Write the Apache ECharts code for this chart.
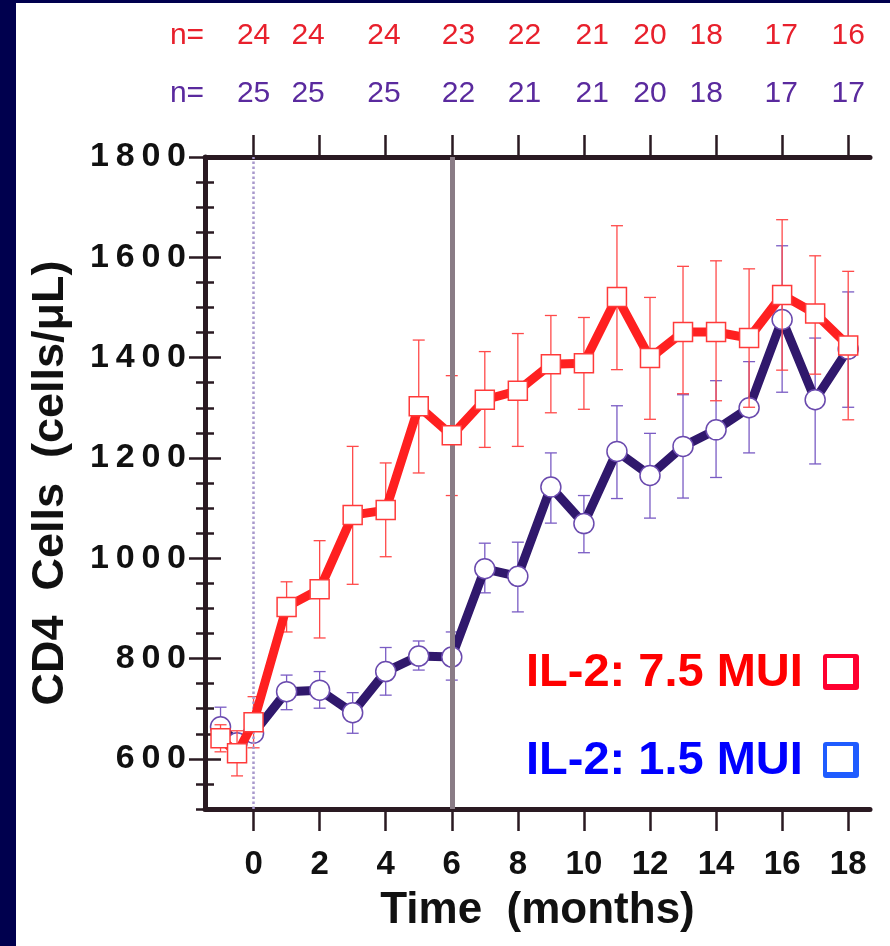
<!DOCTYPE html>
<html>
<head>
<meta charset="utf-8">
<script src="https://cdn.jsdelivr.net/npm/echarts@6/dist/echarts.min.js"></script>
<style>
  html, body { margin: 0; padding: 0; background: #00004e; }
  #chart { width: 890px; height: 946px; }
</style>
</head>
<body>
<div id="chart"></div>
<script>
// Visit times (months from start of IL-2 therapy)
const months = [-1, -0.5, 0, 1, 2, 3, 4, 5, 6, 7, 8, 9, 10, 11, 12, 13, 14, 15, 16, 17, 18];

// IL-2 7.5 MUI arm: mean CD4 count and error-bar limits (cells/µL)
const highDoseMean = [641, 611, 673, 903, 938, 1086, 1096, 1303, 1245, 1316, 1334, 1387, 1389, 1521, 1399, 1451, 1451, 1439, 1525, 1488, 1424];
const highDoseLow  = [614, 566, 622, 853, 841, 948, 1003, 1170, 1125, 1221, 1223, 1290, 1297, 1376, 1277, 1328, 1314, 1301, 1375, 1367, 1276];
const highDoseHigh = [668, 656, 724, 953, 1035, 1223, 1190, 1435, 1364, 1412, 1448, 1484, 1480, 1663, 1520, 1582, 1593, 1577, 1675, 1603, 1572];

// IL-2 1.5 MUI arm
const lowDoseMean = [664, 632, 651, 734, 737, 692, 774, 805, 803, 979, 964, 1142, 1069, 1213, 1165, 1223, 1256, 1300, 1476, 1316, 1417];
const lowDoseLow  = [625, 618, 635, 698, 701, 651, 727, 777, 757, 931, 893, 1070, 1011, 1119, 1080, 1120, 1161, 1210, 1331, 1188, 1301];
const lowDoseHigh = [703, 646, 667, 767, 774, 732, 822, 835, 853, 1030, 1032, 1210, 1125, 1304, 1249, 1326, 1354, 1392, 1623, 1439, 1531];

// Patients contributing at each header column
const nHighDose = [24, 24, 24, 23, 22, 21, 20, 18, 17, 16];
const nLowDose  = [25, 25, 25, 22, 21, 21, 20, 18, 17, 17];
const nColumnMonth = [0, 1.65, 3.95, 6.2, 8.2, 10.25, 12.0, 13.7, 15.97, 18.0];

// Axis tick values
const xTicks = [0, 2, 4, 6, 8, 10, 12, 14, 16, 18];
const yTicks = [600, 800, 1000, 1200, 1400, 1600, 1800];

const FONT = "'Liberation Sans', Arial, Helvetica, sans-serif";
const AXIS_DARK = '#2a1a22';
const RED = '#ff2020';
const PURPLE = '#30186c';

const zip = (m, a) => m.map((x, i) => [x, a[i]]);
const zip3 = (m, a, b) => m.map((x, i) => [x, a[i], b[i]]);

function errorBars(color) {
  return function (params, api) {
    const x = api.value(0);
    const lo = api.coord([x, api.value(1)]);
    const hi = api.coord([x, api.value(2)]);
    const h = 6;
    const st = { stroke: color, lineWidth: 1.3 };
    return {
      type: 'group',
      children: [
        { type: 'line', shape: { x1: lo[0], y1: lo[1], x2: hi[0], y2: hi[1] }, style: st },
        { type: 'line', shape: { x1: lo[0] - h, y1: lo[1], x2: lo[0] + h, y2: lo[1] }, style: st },
        { type: 'line', shape: { x1: hi[0] - h, y1: hi[1], x2: hi[0] + h, y2: hi[1] }, style: st }
      ]
    };
  };
}

const spaced = v => String(v).split('').join('\u2009');

const xRange = { min: -1.47, max: 18.66 };
const yRange = { min: 500, max: 1800 };

const chart = echarts.init(document.getElementById('chart'));

const yBase = {
  type: 'value', position: 'left', ...yRange,
  axisLine: { show: false, onZero: false },
  axisLabel: { show: false },
  splitLine: { show: false }
};

chart.setOption({
  animation: false,
  backgroundColor: '#00004e',
  grid: { left: 205, right: 20, top: 157, bottom: 137 },
  xAxis: [
    {
      type: 'value', position: 'bottom', ...xRange,
      axisLine: { show: true, onZero: false, lineStyle: { color: AXIS_DARK, width: 5 } },
      axisTick: { show: true, customValues: xTicks, length: 22, lineStyle: { color: AXIS_DARK, width: 2.5 } },
      axisLabel: { show: true, customValues: xTicks, margin: 39, color: '#111', fontFamily: FONT, fontWeight: 'bold', fontSize: 33 },
      splitLine: { show: false },
      name: 'Time  (months)', nameLocation: 'middle', nameGap: 80,
      nameTextStyle: { color: '#111', fontFamily: FONT, fontWeight: 'bold', fontSize: 44 }
    },
    {
      type: 'value', position: 'top', ...xRange,
      axisLine: { show: true, onZero: false, lineStyle: { color: AXIS_DARK, width: 5 } },
      axisTick: { show: true, customValues: xTicks, length: 22, lineStyle: { color: AXIS_DARK, width: 2.5 } },
      axisLabel: { show: false },
      splitLine: { show: false }
    }
  ],
  yAxis: [
    Object.assign({}, yBase, {
      // minor ticks every 50, outer half, plus the axis line and title
      interval: 50,
      axisLine: { show: true, onZero: false, lineStyle: { color: AXIS_DARK, width: 5 } },
      axisTick: { show: true, length: 9, lineStyle: { color: AXIS_DARK, width: 2.5 } },
      name: 'CD4  Cells  (cells/\u03bcL)', nameLocation: 'middle', nameGap: 132,
      nameTextStyle: { color: '#111', fontFamily: FONT, fontWeight: 'bold', fontSize: 45 }
    }),
    Object.assign({}, yBase, {
      // minor ticks, inner half
      interval: 50,
      axisTick: { show: true, inside: true, length: 9, lineStyle: { color: AXIS_DARK, width: 2.5 } }
    }),
    Object.assign({}, yBase, {
      // major ticks with labels, outer half
      axisTick: { show: true, customValues: yTicks, length: 16, lineStyle: { color: AXIS_DARK, width: 2.5 } },
      axisLabel: { show: true, customValues: yTicks, margin: 19, formatter: spaced, color: '#111', fontFamily: FONT, fontWeight: 'bold', fontSize: 34 }
    }),
    Object.assign({}, yBase, {
      // major ticks, inner half
      axisTick: { show: true, inside: true, customValues: yTicks, length: 16, lineStyle: { color: AXIS_DARK, width: 2.5 } }
    })
  ],
  series: [
    {
      // reference lines: start of therapy and 6-month mark
      type: 'line', data: [], z: 1, silent: true,
      markLine: {
        silent: true, symbol: 'none', label: { show: false },
        data: [
          { xAxis: 0, lineStyle: { color: '#a898cc', width: 2.5, type: 'dotted' } },
          { xAxis: 6, lineStyle: { color: '#8a7c86', width: 5, type: 'solid' } }
        ]
      }
    },
    {
      name: 'IL-2: 1.5 MUI errors', type: 'custom', z: 2,
      renderItem: errorBars('#7a5cc4'),
      encode: { x: 0, y: [1, 2] },
      data: zip3(months, lowDoseLow, lowDoseHigh)
    },
    {
      name: 'IL-2: 1.5 MUI', type: 'line', z: 3,
      data: zip(months, lowDoseMean),
      symbol: 'circle', symbolSize: 20,
      lineStyle: { color: PURPLE, width: 9 },
      itemStyle: { color: '#ffffff', borderColor: '#6a4aae', borderWidth: 1.5 }
    },
    {
      name: 'IL-2: 7.5 MUI errors', type: 'custom', z: 4,
      renderItem: errorBars('#ff4a4a'),
      encode: { x: 0, y: [1, 2] },
      data: zip3(months, highDoseLow, highDoseHigh)
    },
    {
      name: 'IL-2: 7.5 MUI', type: 'line', z: 5,
      data: zip(months, highDoseMean),
      symbol: 'rect', symbolSize: 19,
      lineStyle: { color: RED, width: 9 },
      itemStyle: { color: '#ffffff', borderColor: '#ff3a3a', borderWidth: 1.5 }
    }
  ]
});

// Header rows with patient counts, plus the dose key
function legendBox(x, y, color) {
  return {
    type: 'group', z: 20,
    children: [
      { type: 'rect', shape: { x: x, y: y, width: 36, height: 36, r: 3 }, style: { fill: color } },
      { type: 'rect', shape: { x: x + 4, y: y + 4, width: 26, height: 26 }, style: { fill: '#ffffff' } }
    ]
  };
}

const overlay = [{ type: 'rect', z: -10, shape: { x: 16, y: 3, width: 874, height: 943 }, style: { fill: '#ffffff' } }];
const rowY = [36, 94];
const rowColor = ['#e8202c', '#5a2a9e'];
[nHighDose, nLowDose].forEach((counts, r) => {
  overlay.push({
    type: 'text', z: 20,
    style: { text: 'n=', x: 187, y: rowY[r], fill: rowColor[r], font: '30px ' + FONT, textAlign: 'center', textVerticalAlign: 'middle' }
  });
  counts.forEach((n, i) => {
    const px = chart.convertToPixel({ xAxisIndex: 0 }, nColumnMonth[i]);
    overlay.push({
      type: 'text', z: 20,
      style: { text: String(n), x: px, y: rowY[r], fill: rowColor[r], font: '30px ' + FONT, textAlign: 'center', textVerticalAlign: 'middle' }
    });
  });
});

overlay.push(
  { type: 'text', z: 20, style: { text: 'IL-2: 7.5 MUI', x: 526, y: 673, fill: '#ff0000', font: 'bold 47px ' + FONT, textAlign: 'left', textVerticalAlign: 'middle' } },
  { type: 'text', z: 20, style: { text: 'IL-2: 1.5 MUI', x: 526, y: 761, fill: '#0000ff', font: 'bold 47px ' + FONT, textAlign: 'left', textVerticalAlign: 'middle' } },
  legendBox(823, 654, '#ff0030'),
  legendBox(823, 742, '#1f5cff')
);

chart.setOption({ graphic: overlay });
</script>
</body>
</html>
